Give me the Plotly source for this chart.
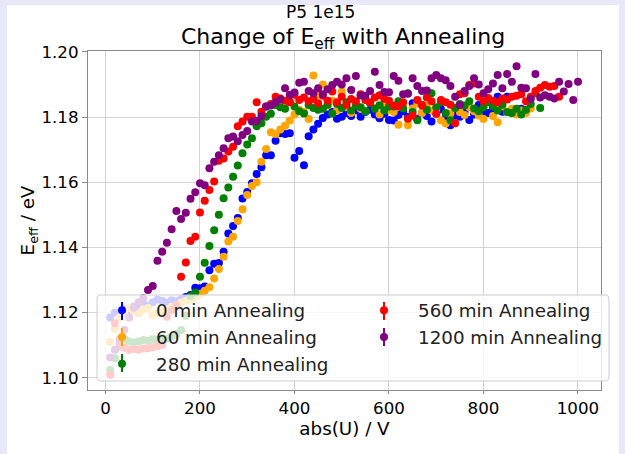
import plotly.graph_objects as go

# ---------------- data ----------------
VOLTAGE = [10, 20, 30, 40, 50, 60, 70, 80, 90, 100,
           110, 120, 130, 140, 150, 160, 170, 180, 190, 200,
           210, 220, 230, 240, 250, 260, 270, 280, 290, 300,
           310, 320, 330, 340, 350, 360, 370, 380, 390, 400,
           410, 420, 430, 440, 450, 460, 470, 480, 490, 500,
           510, 520, 530, 540, 550, 560, 570, 580, 590, 600,
           610, 620, 630, 640, 650, 660, 670, 680, 690, 700,
           710, 720, 730, 740, 750, 760, 770, 780, 790, 800,
           810, 820, 830, 840, 850, 860, 870, 880, 890, 900,
           910, 920, 930, 940, 950, 960, 970, 980, 990, 1000]

LABELS = ["0 min Annealing", "60 min Annealing", "280 min Annealing",
          "560 min Annealing", "1200 min Annealing"]
COLORS = ["#0000ff", "#ffa500", "#008000", "#ff0000", "#800080"]

E_0MIN = [1.1185, 1.1200, 1.1196, 1.1210, 1.1205, 1.1218, 1.1222, 1.1228, 1.1220, 1.1232,
          1.1240, 1.1236, 1.1230, 1.1238, 1.1235, 1.1242, 1.1248, 1.1254,
          1.1276, 1.1275, 1.1280, 1.1330, 1.1350, 1.1352, 1.1387, 1.1443, 1.1466, 1.1490,
          1.1550, 1.1570, 1.1597, 1.1625, 1.1646, 1.1683, 1.1683, 1.1727, 1.1750, 1.1748,
          1.1750, 1.1675, 1.1696, 1.1652, 1.1741, 1.1762, 1.1779, 1.1797,
          1.1808, 1.1816, 1.1795, 1.1801, 1.1812, 1.1803, 1.1820, 1.1801, 1.1815, 1.1822,
          1.1808, 1.1796, 1.1810, 1.1791, 1.1789, 1.1806, 1.1818, 1.1800, 1.1842, 1.1794,
          1.1812, 1.1803, 1.1786, 1.1811, 1.1824, 1.1798, 1.1775, 1.1805, 1.1801, 1.1815,
          1.1791, 1.1808, 1.1837, 1.1818, 1.1812, 1.1826, 1.1862, 1.1816, 1.1862, 1.1820,
          1.1810, 1.1825]

E_60MIN = [1.1110, 1.1150, 1.1185, 1.1200, 1.1214, 1.1205, 1.1198, 1.1210, 1.1214, 1.1192,
           1.1199, 1.1203, 1.1210, 1.1218, 1.1222, 1.1230, 1.1236, 1.1240, 1.1248,
           1.1258, 1.1267, 1.1278, 1.1305, 1.1334, 1.1371, 1.1418, 1.1433, 1.1481, 1.1517,
           1.1561, 1.1588, 1.1600, 1.1663, 1.1702, 1.1753, 1.1748, 1.1762, 1.1773, 1.1789,
           1.1808, 1.1822, 1.1815, 1.1794, 1.1927, 1.1868, 1.1900,
           1.1835, 1.1850, 1.1820, 1.1878, 1.1830, 1.1812, 1.1840, 1.1825, 1.1818, 1.1845,
           1.1828, 1.1808, 1.1836, 1.1822, 1.1815, 1.1776, 1.1830, 1.1775, 1.1826, 1.1842,
           1.1812, 1.1835, 1.1820, 1.1822, 1.1790, 1.1780, 1.1811, 1.1829, 1.1815, 1.1806,
           1.1830, 1.1818, 1.1805, 1.1794, 1.1847, 1.1803, 1.1784, 1.1832, 1.1815, 1.1825,
           1.1808, 1.1820, 1.1812, 1.1826]

E_280MIN = [1.1024, 1.1060, 1.1095, 1.1120, 1.1111, 1.1108, 1.1111, 1.1116, 1.1113, 1.1118,
            1.1116, 1.1122, 1.1120, 1.1126, 1.1135, 1.1147, 1.1190, 1.1251, 1.1262,
            1.1310, 1.1353, 1.1404, 1.1453, 1.1500, 1.1551, 1.1584, 1.1617, 1.1651, 1.1689,
            1.1716, 1.1735, 1.1772, 1.1781, 1.1801, 1.1810, 1.1837, 1.1830, 1.1825, 1.1847,
            1.1832, 1.1818, 1.1811, 1.1837, 1.1828, 1.1822,
            1.1825, 1.1838, 1.1811, 1.1840, 1.1828, 1.1845, 1.1820, 1.1835, 1.1830, 1.1818,
            1.1842, 1.1825, 1.1836, 1.1820, 1.1832, 1.1832, 1.1848, 1.1826, 1.1873, 1.1815,
            1.1790, 1.1838, 1.1822, 1.1873, 1.1830, 1.1845, 1.1812, 1.1790, 1.1828, 1.1840,
            1.1835, 1.1848, 1.1826, 1.1818, 1.1830, 1.1845, 1.1832, 1.1820, 1.1838, 1.1815,
            1.1812, 1.1825, 1.1808, 1.1822, 1.1840, 1.1873, 1.1828]

E_560MIN = [1.1009, 1.1167, 1.1105, 1.1092, 1.1085, 1.1088, 1.1086, 1.1090, 1.1091, 1.1094,
            1.1097, 1.1101, 1.1187, 1.1208, 1.1223,
            1.1310, 1.1354, 1.1420, 1.1433, 1.1507, 1.1543, 1.1576, 1.1602, 1.1666, 1.1673,
            1.1694, 1.1709, 1.1772, 1.1786, 1.1801, 1.1801, 1.1845,
            1.1816, 1.1832, 1.1840, 1.1862, 1.1857, 1.1850, 1.1845, 1.1868, 1.1852, 1.1860,
            1.1848, 1.1855, 1.1842, 1.1865, 1.1850, 1.1878, 1.1845, 1.1862, 1.1838, 1.1855,
            1.1848, 1.1870, 1.1852, 1.1845, 1.1860, 1.1867, 1.1856, 1.1850, 1.1835, 1.1832,
            1.1845, 1.1795, 1.1805, 1.1852, 1.1835, 1.1860, 1.1848, 1.1810, 1.1852, 1.1845,
            1.1838, 1.1781, 1.1870, 1.1873, 1.1898, 1.1903, 1.1862, 1.1848, 1.1858, 1.1850,
            1.1845, 1.1857, 1.1854, 1.1862, 1.1865, 1.1870, 1.1848, 1.1862, 1.1880, 1.1890,
            1.1898, 1.1893, 1.1895, 1.1862]

E_1200MIN = [1.1062, 1.1086, 1.1118, 1.1147, 1.1185, 1.1215, 1.1232, 1.1244, 1.1269, 1.1282,
             1.1359, 1.1387, 1.1414, 1.1456, 1.1512, 1.1487, 1.1506, 1.1549, 1.1569, 1.1597,
             1.1591, 1.1643, 1.1663, 1.1683, 1.1704, 1.1735, 1.1740, 1.1726, 1.1745, 1.1757,
             1.1786, 1.1788, 1.1803, 1.1832, 1.1835, 1.1845, 1.1854, 1.1888, 1.1868, 1.1875,
             1.1905, 1.1908, 1.1880, 1.1873, 1.1888, 1.1870, 1.1885, 1.1898, 1.1908, 1.1900,
             1.1919, 1.1883, 1.1926, 1.1866, 1.1865, 1.1880, 1.1939, 1.1898, 1.1877, 1.1876,
             1.1926, 1.1911, 1.1870, 1.1871, 1.1919, 1.1895, 1.1880, 1.1881, 1.1919, 1.1929,
             1.1919, 1.1913, 1.1895, 1.1862, 1.1837, 1.1880, 1.1895, 1.1919, 1.1900, 1.1873,
             1.1885, 1.1903, 1.1929, 1.1888, 1.1932, 1.1908, 1.1956, 1.1890, 1.1888, 1.1855,
             1.1932, 1.1860, 1.1867, 1.1862, 1.1857, 1.1908, 1.1878, 1.1901, 1.1852, 1.1908]

SERIES = [E_0MIN, E_60MIN, E_280MIN, E_560MIN, E_1200MIN]
LEGEND_COLUMN = ["legend", "legend", "legend", "legend2", "legend2"]

X_TICKS = [0, 200, 400, 600, 800, 1000]
Y_TICKS = [1.10, 1.12, 1.14, 1.16, 1.18, 1.20]

SUPTITLE = "P5 1e15"
TITLE = "Change of E<sub>eff</sub> with Annealing"
X_LABEL = "abs(U) / V"
Y_LABEL = "E<sub>eff</sub> / eV"

# ---------------- layout geometry (pixels) ----------------
W, H = 625, 454
PL, PR, PT, PB = 88, 601, 51, 390


def fx(px):
    return (px - PL) / (PR - PL)


def fy(py):
    return (PB - py) / (PB - PT)


FONT = "DejaVu Sans"
AXIS_GREY = "#8a8a8a"
GRID = "#d4d4d4"

fig = go.Figure()
for name, color, vals, lg in zip(LABELS, COLORS, SERIES, LEGEND_COLUMN):
    fig.add_trace(go.Scatter(
        x=VOLTAGE[:len(vals)], y=vals, mode="markers", name=name,
        marker=dict(color=color, size=8, line=dict(width=0)),
        legend=lg,
    ))

# legend frame (semi-transparent, rounded corners) drawn as a shape above the data
x0, x1, y0, y1, r = 97, 609, 295, 381, 4
pts = [
    ("M", x0 + r, y0), ("L", x1 - r, y0), ("Q", x1, y0, x1, y0 + r),
    ("L", x1, y1 - r), ("Q", x1, y1, x1 - r, y1), ("L", x0 + r, y1),
    ("Q", x0, y1, x0, y1 - r), ("L", x0, y0 + r), ("Q", x0, y0, x0 + r, y0),
]
path = ""
for p in pts:
    if p[0] == "Q":
        path += f"Q{fx(p[1]):.5f},{fy(p[2]):.5f} {fx(p[3]):.5f},{fy(p[4]):.5f} "
    else:
        path += f"{p[0]}{fx(p[1]):.5f},{fy(p[2]):.5f} "
path += "Z"

shapes = [
    # white figure area over the lavender page edge
    dict(type="rect", xref="paper", yref="paper", layer="below",
         x0=fx(7), x1=fx(619), y0=fy(H + 2), y1=fy(5),
         fillcolor="white", line=dict(width=0)),
    dict(type="path", xref="paper", yref="paper", layer="above", path=path,
         fillcolor="rgba(255,255,255,0.8)", line=dict(color="#cccccc", width=1)),
]

# small vertical error-bar strokes through the legend handles
handle_pos = [(122, 311), (122, 337), (122, 363), (384, 311), (384, 337)]
for (hx, hy), color in zip(handle_pos, COLORS):
    shapes.append(dict(type="line", xref="paper", yref="paper", layer="above",
                       x0=fx(hx), x1=fx(hx), y0=fy(hy - 9), y1=fy(hy + 9),
                       line=dict(color=color, width=2)))

axis_common = dict(
    showline=True, linecolor=AXIS_GREY, linewidth=1.2, mirror=True,
    ticks="outside", tickwidth=1.2, tickcolor=AXIS_GREY,
    showgrid=True, gridcolor=GRID, gridwidth=1, zeroline=False,
    tickfont=dict(family=FONT, size=16.7, color="black"),
)

fig.update_layout(
    width=W, height=H,
    margin=dict(l=PL, r=W - PR, t=PT, b=H - PB, pad=0),
    paper_bgcolor="#e8e8f8", plot_bgcolor="white",
    font=dict(family=FONT, color="black"),
    xaxis=dict(range=[-37, 1048.7], tickvals=X_TICKS, ticklen=3, **axis_common,
               title=dict(text=X_LABEL, font=dict(family=FONT, size=18.3), standoff=0)),
    yaxis=dict(range=[1.09626, 1.20025], tickvals=Y_TICKS, tickformat=".2f", ticklen=5,
               **axis_common,
               title=dict(text=Y_LABEL, font=dict(family=FONT, size=18.3), standoff=1)),
    legend=dict(x=fx(88), y=fy(291.8), xanchor="left", yanchor="top",
                bgcolor="rgba(0,0,0,0)", borderwidth=0, itemwidth=58,
                tracegroupgap=0, font=dict(family=FONT, size=18.3, color="#222222")),
    legend2=dict(x=fx(350), y=fy(291.8), xanchor="left", yanchor="top",
                 bgcolor="rgba(0,0,0,0)", borderwidth=0, itemwidth=58,
                 tracegroupgap=0, font=dict(family=FONT, size=18.3, color="#222222")),
    shapes=shapes,
    annotations=[
        dict(text=SUPTITLE, xref="paper", yref="paper", x=fx(320), y=fy(12),
             xanchor="center", yanchor="middle", showarrow=False,
             font=dict(family=FONT, size=17, color="black")),
        dict(text=TITLE, xref="paper", yref="paper", x=fx(343), y=fy(38),
             xanchor="center", yanchor="middle", showarrow=False,
             font=dict(family=FONT, size=22, color="black")),
    ],
)

fig.write_html("out.html")
